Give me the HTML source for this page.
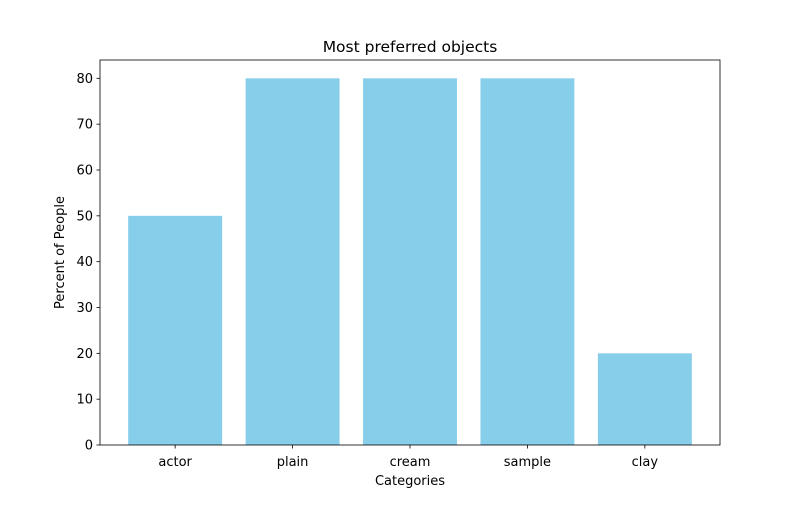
<!DOCTYPE html>
<html><head><meta charset="utf-8"><style>
body{margin:0;background:#fff}
text{font-family:"DejaVu Sans","Liberation Sans",sans-serif;fill:#000}
</style></head><body>
<svg id="chart" width="800" height="500" xmlns="http://www.w3.org/2000/svg"></svg>
<script>
const categories=["actor","plain","cream","sample","clay"];
const values=[50,80,80,80,20];
const yTicks=[0,10,20,30,40,50,60,70,80];
const L=100,R=720,T=60,B=445;
const xMin=-0.64,xMax=4.64,yMin=0,yMax=84;
const xs=v=>L+(v-xMin)/(xMax-xMin)*(R-L);
const ys=v=>B-(v-yMin)/(yMax-yMin)*(B-T);
const svg=document.getElementById('chart');
const NS="http://www.w3.org/2000/svg";
function mk(t,a,txt){const e=document.createElementNS(NS,t);for(const k in a)e.setAttribute(k,a[k]);if(txt!=null)e.textContent=txt;svg.appendChild(e);return e;}
categories.forEach((c,i)=>{
  const r=mk('rect',{x:xs(i-0.4),y:ys(values[i]),width:xs(i+0.4)-xs(i-0.4),height:ys(0)-ys(values[i]),fill:'#87ceeb'});
  
  
  const tk=mk('line',{x1:xs(i),x2:xs(i),y1:B,y2:B+3.5,stroke:'#000','stroke-width':0.8});
  
  
  const lb=mk('text',{x:xs(i),y:B+21,'text-anchor':'middle','font-size':13},c);
  
  
});
yTicks.forEach(v=>{
  const tk=mk('line',{x1:L-3.5,x2:L,y1:ys(v),y2:ys(v),stroke:'#000','stroke-width':0.8});
  
  
  const lb=mk('text',{x:L-7,y:ys(v)+4.5,'text-anchor':'end','font-size':13},String(v));
  
  
});
const f=mk('rect',{x:L,y:T,width:R-L,height:B-T,fill:'none',stroke:'#000','stroke-width':0.8});


const t=mk('text',{x:(L+R)/2,y:52,'text-anchor':'middle','font-size':15.5},'Most preferred objects');


const xt=mk('text',{x:(L+R)/2,y:485,'text-anchor':'middle','font-size':13},'Categories');


const yt=mk('text',{x:64,y:(T+B)/2,'text-anchor':'middle','font-size':13,transform:`rotate(-90 64 ${(T+B)/2})`},'Percent of People');


</script>
</body></html>
